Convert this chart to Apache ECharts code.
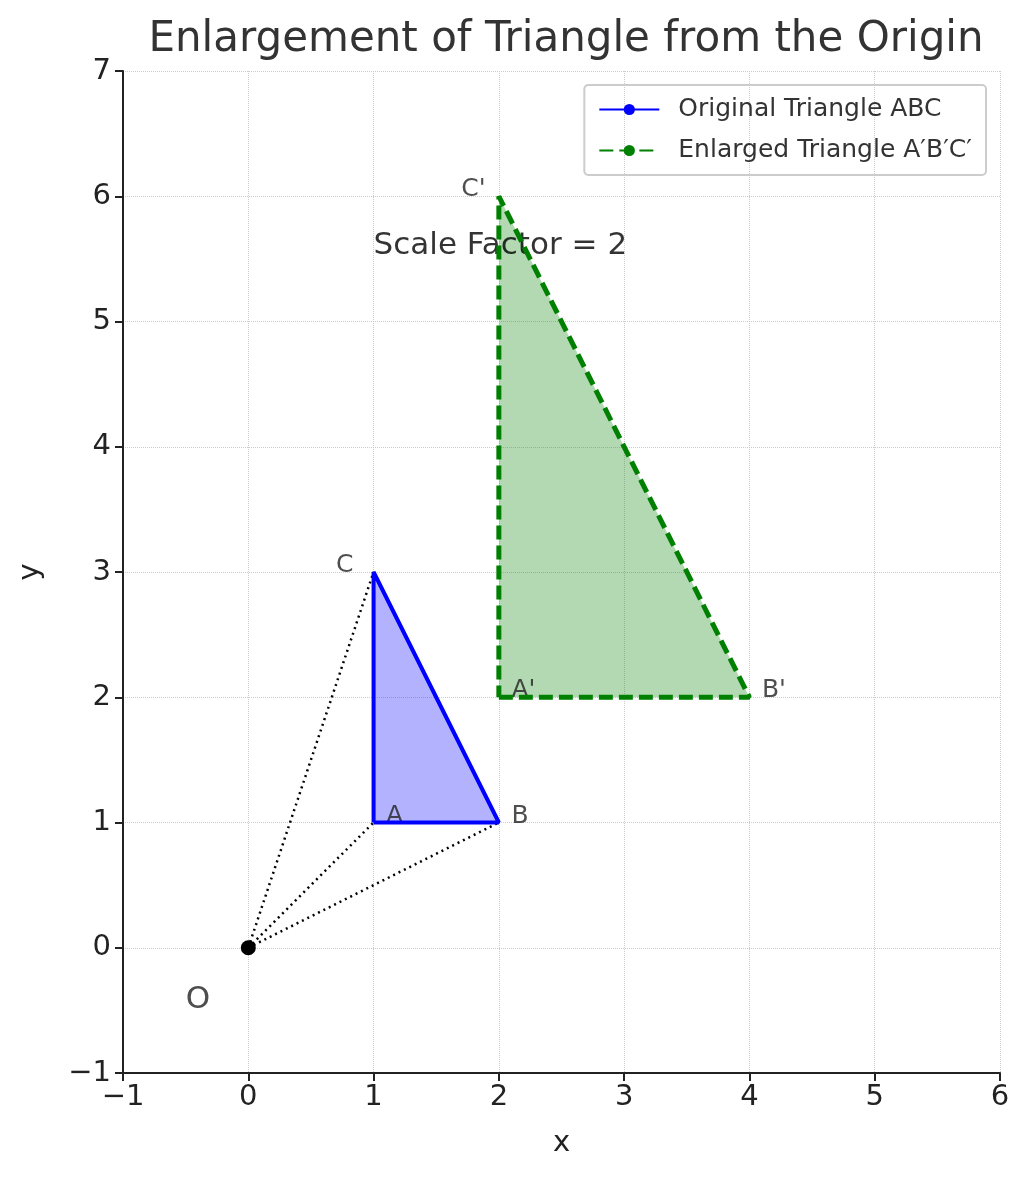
<!DOCTYPE html>
<html>
<head>
<meta charset="utf-8">
<script src="https://cdn.jsdelivr.net/npm/echarts@6/dist/echarts.min.js"></script>
<style>html,body{margin:0;padding:0;background:#fff}#chart{width:1030px;height:1180px}</style>
</head>
<body>
<div id="chart"></div>
<script>
var original = [[1, 1], [2, 1], [1, 3]];
var enlarged = [[2, 2], [4, 2], [2, 6]];
var origin = [0, 0];
var pointLabels = [
	[1.1, 1.05, 'A'], [2.1, 1.05, 'B'], [0.7, 3.05, 'C'],
	[2.1, 2.05, "A'"], [4.1, 2.05, "B'"], [1.7, 6.05, "C'"]
];
var originLabel = [-0.5, -0.42, 'O'];
var scaleText = [1, 5.6, 'Scale Factor = 2'];

function closed(p) { return p.concat([p[0]]); }
function polygon(color) {
	return function (params, api) {
		return {
			type: 'polygon',
			shape: { points: this.map(function (d) { return api.coord(d); }) },
			style: { fill: color }
		};
	};
}
var rays = [];
original.forEach(function (p) { rays.push(origin, p, null); });
rays = rays.map(function (p) { return p === null ? ['-', '-'] : p; });

var tickFont = { fontSize: 29, color: '#222', fontFamily: 'DejaVu Sans' };
var chart = echarts.init(document.getElementById('chart'));
chart.setOption({
	animation: false,
	title: {
		text: 'Enlargement of Triangle from the Origin',
		left: 561, top: 14, textAlign: 'center',
		textStyle: { fontSize: 42, fontWeight: 'normal', color: '#333', fontFamily: 'DejaVu Sans' }
	},
	legend: {
		right: 44, top: 85, orient: 'vertical', itemGap: 16,
		padding: [12, 14], borderColor: '#ccc', borderWidth: 2, borderRadius: 4,
		itemWidth: 60, itemHeight: 14,
		textStyle: { fontSize: 25, color: '#333', fontFamily: 'DejaVu Sans', padding: [0, 0, 0, 14] },
		data: ['Original Triangle ABC', 'Enlarged Triangle A′B′C′']
	},
	grid: { left: 123, right: 30, top: 71, bottom: 107 },
	xAxis: {
		type: 'value', min: -1, max: 6, interval: 1,
		name: 'x', nameLocation: 'middle', nameGap: 56,
		nameTextStyle: tickFont,
		axisLine: { show: true, onZero: false, lineStyle: { color: '#222', width: 2 } },
		axisTick: { show: true, length: 8, lineStyle: { color: '#222', width: 2 } },
		axisLabel: Object.assign({ margin: 10, formatter: function (v) { return v < 0 ? '−' + (-v) : v; } }, tickFont),
		splitLine: { show: true, lineStyle: { color: '#ccc', type: 'dotted' } }
	},
	yAxis: {
		type: 'value', min: -1, max: 7, interval: 1,
		name: 'y', nameLocation: 'middle', nameGap: 78,
		nameTextStyle: tickFont,
		axisLine: { show: true, onZero: false, lineStyle: { color: '#222', width: 2 } },
		axisTick: { show: true, length: 8, lineStyle: { color: '#222', width: 2 } },
		axisLabel: Object.assign({ margin: 12, formatter: function (v) { return v < 0 ? '−' + (-v) : v; } }, tickFont),
		splitLine: { show: true, lineStyle: { color: '#ccc', type: 'dotted' } }
	},
	series: [
		{
			type: 'custom', silent: true,
			data: [0],
			renderItem: polygon('rgba(0,0,255,0.3)').bind(original)
		},
		{
			type: 'custom', silent: true,
			data: [0],
			renderItem: polygon('rgba(0,128,0,0.3)').bind(enlarged)
		},
		{
			name: 'rays', type: 'line', data: rays, symbol: 'none', connectNulls: false,
			lineStyle: { color: '#000', width: 2.5, type: [2, 4] }
		},
		{
			name: 'Original Triangle ABC', type: 'line', data: closed(original),
			symbol: 'none', color: '#0000ff',
			lineStyle: { color: '#0000ff', width: 4 }
		},
		{
			name: 'Enlarged Triangle A′B′C′', type: 'line', data: closed(enlarged),
			symbol: 'none', color: '#008000',
			lineStyle: { color: '#008000', width: 5, type: [14, 6] }
		},
		{
			type: 'scatter', data: [origin], symbolSize: 15,
			itemStyle: { color: '#000', opacity: 1 }
		},
		{
			type: 'scatter', symbolSize: 0,
			data: pointLabels.map(function (d) { return { value: [d[0], d[1]], name: d[2] }; }),
			label: { show: true, position: 'right', distance: 0, formatter: '{b}', fontSize: 25, color: '#222', fontFamily: 'DejaVu Sans' }
		},
		{
			type: 'scatter', symbolSize: 0,
			data: [{ value: [originLabel[0], originLabel[1]], name: originLabel[2] }],
			label: { show: true, position: 'right', distance: 0, formatter: '{b}', fontSize: 31, color: '#222', fontFamily: 'DejaVu Sans' }
		},
		{
			type: 'scatter', symbolSize: 0,
			data: [{ value: [scaleText[0], scaleText[1]], name: scaleText[2] }],
			label: { show: true, position: 'right', distance: 0, formatter: '{b}', fontSize: 31, color: '#000', fontFamily: 'DejaVu Sans' }
		}
	]
});
</script>
</body>
</html>
